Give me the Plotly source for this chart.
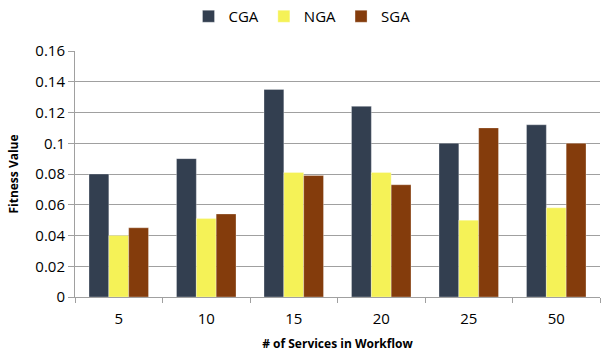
import plotly.graph_objects as go

categories = ["5", "10", "15", "20", "25", "50"]
cga = [0.080, 0.090, 0.135, 0.124, 0.100, 0.112]
nga = [0.040, 0.051, 0.081, 0.081, 0.050, 0.058]
sga = [0.045, 0.054, 0.079, 0.073, 0.110, 0.100]
y_ticks = [0, 0.02, 0.04, 0.06, 0.08, 0.1, 0.12, 0.14, 0.16]
y_labels = ["0", "0.02", "0.04", "0.06", "0.08", "0.1", "0.12", "0.14", "0.16"]

series = [("CGA", cga, "#333F50"), ("NGA", nga, "#F5F257"), ("SGA", sga, "#843C0C")]

fig = go.Figure()
for name, vals, color in series:
    fig.add_trace(go.Bar(
        name=name, x=categories, y=vals,
        marker=dict(color=color, line=dict(color="rgba(255,255,255,0.5)", width=0.6)),
    ))

font_family = "Open Sans, Liberation Sans, sans-serif"
fig.update_layout(
    width=604, height=354,
    margin=dict(l=75, r=4, t=51, b=57),
    paper_bgcolor="white", plot_bgcolor="white",
    barmode="group", bargap=0.32, bargroupgap=0,
    font=dict(family=font_family, color="#000000"),
    showlegend=True,
    legend=dict(
        orientation="h", xref="container", yref="container",
        x=0.5, xanchor="center", y=1.0, yanchor="top",
        font=dict(size=15), itemwidth=30, tracegroupgap=0,
    ),
    xaxis=dict(
        type="category",
        showline=True, linecolor="#A0A0A0", linewidth=1,
        ticks="outside", tickson="boundaries", ticklen=5, tickcolor="#A0A0A0",
        tickfont=dict(size=15), ticklabelstandoff=8,
        title=dict(text="<b># of Services in Workflow</b>", font=dict(size=12), standoff=12),
        showgrid=False,
    ),
    yaxis=dict(
        range=[0, 0.16],
        tickvals=y_ticks, ticktext=y_labels,
        showline=True, linecolor="#A0A0A0", linewidth=1,
        ticks="outside", ticklen=6, tickcolor="#A0A0A0",
        showgrid=True, gridcolor="#A0A0A0", gridwidth=1,
        tickfont=dict(size=15),
        title=dict(text="<b>Fitness Value</b>", font=dict(size=12), standoff=14),
        zeroline=False,
    ),
)

fig.write_html("out.html")
